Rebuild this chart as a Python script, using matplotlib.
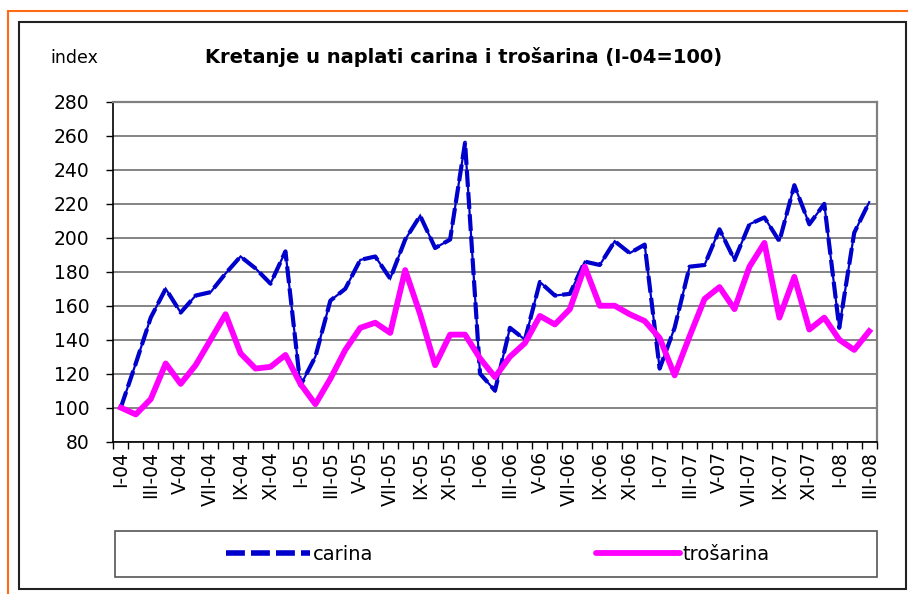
import numpy as np
import matplotlib
matplotlib.use("Agg")
import matplotlib.pyplot as plt
from matplotlib.patches import Rectangle
from matplotlib.lines import Line2D

# mjesecne oznake I-04 .. III-08
months = ['I', 'II', 'III', 'IV', 'V', 'VI', 'VII', 'VIII', 'IX', 'X', 'XI', 'XII']
years = ['04', '05', '06', '07', '08']
labels = [m + '-' + y for y in years for m in months][:51]

carina = [100, 126, 153, 170, 156, 166, 168, 179, 189, 182, 173, 192,
          113, 130, 163, 170, 187, 189, 176, 199, 213, 194, 199, 256,
          120, 110, 147, 140, 174, 166, 167, 186, 184, 198, 191, 196,
          123, 147, 183, 184, 205, 187, 208, 212, 198, 231, 208, 220,
          147, 203, 221]
trosarina = [100, 96, 105, 126, 114, 125, 140, 155, 132, 123, 124, 131,
             114, 102, 117, 134, 147, 150, 144, 181, 155, 125, 143, 143,
             129, 118, 130, 138, 154, 149, 158, 183, 160, 160, 155, 151,
             141, 119, 142, 164, 171, 158, 183, 197, 153, 177, 146, 153,
             140, 134, 145]

plt.rcParams['font.family'] = ['DejaVu Sans']

fig = plt.figure(figsize=(9.08, 5.94), dpi=100)
ax = fig.add_axes([0.1248, 0.2566, 0.8407, 0.5717])

x = np.arange(len(carina))
blue = '#0000CC'
ax.plot(x, carina, color=blue, lw=1.6, solid_joinstyle='miter', zorder=3)
ax.plot(x, carina, color=blue, lw=3.0, linestyle=(0, (4.0, 1.3)), zorder=3)
ax.plot(x, trosarina, color='#FF00FF', lw=4.2, solid_joinstyle='round', zorder=4)

ax.set_xlim(-0.5, len(carina) - 0.5)
ax.set_ylim(80, 280)
ax.set_yticks(np.arange(80, 281, 20))
ax.grid(axis='y', color='#707070', lw=1.2)
ax.set_axisbelow(True)

# crtice na granicama kategorija, oznake svaki drugi mjesec
ax.set_xticks(np.arange(-0.5, len(carina), 1))
ax.set_xticklabels([])
ax.set_xticks(x[::2], minor=True)
ax.set_xticklabels(labels[::2], minor=True, rotation=90, fontsize=13.5)
ax.tick_params(axis='x', which='major', length=5, width=1, color='black', direction='out')
ax.tick_params(axis='x', which='minor', length=0, pad=7)
ax.tick_params(axis='y', length=5, width=1, labelsize=13.5, pad=12)

for s in ['left', 'bottom']:
    ax.spines[s].set_color('black')
    ax.spines[s].set_linewidth(1.2)
for s in ['top', 'right']:
    ax.spines[s].set_color('#808080')
    ax.spines[s].set_linewidth(1.6)

fig.text(0.0551, 0.8939, 'index', fontsize=12.5, va='baseline', ha='left')
fig.text(0.5105, 0.8939, 'Kretanje u naplati carina i trošarina (I-04=100)',
         fontsize=14, fontweight='bold', va='baseline', ha='center')

# okviri
W, H = 908.0, 594.0
fig.add_artist(Rectangle((8 / W, -0.1), 1.1, (594 - 11) / H + 0.1, transform=fig.transFigure,
                         fill=False, edgecolor='#FF6A13', lw=1.5))
fig.add_artist(Rectangle((19 / W, 1 - 589 / H), (906 - 19) / W, (589 - 22) / H,
                         transform=fig.transFigure, fill=False, edgecolor='#222222', lw=1.5))
fig.add_artist(Rectangle((115 / W, 1 - 577 / H), (877 - 115) / W, (577 - 531) / H,
                         transform=fig.transFigure, fill=False, edgecolor='#555555', lw=1.2))

handles = [Line2D([], [], color=blue, lw=4, linestyle=(0, (3.4, 1.1))),
           Line2D([], [], color='#FF00FF', lw=4.2, solid_capstyle='round')]
fig.legend(handles, ['carina', 'trošarina'], loc='center', ncol=2,
           bbox_to_anchor=(498 / W, 1 - 554 / H), frameon=False, fontsize=14,
           handlelength=4.3, handletextpad=0.15, columnspacing=11.5)

fig.savefig('out.png', dpi=100)
